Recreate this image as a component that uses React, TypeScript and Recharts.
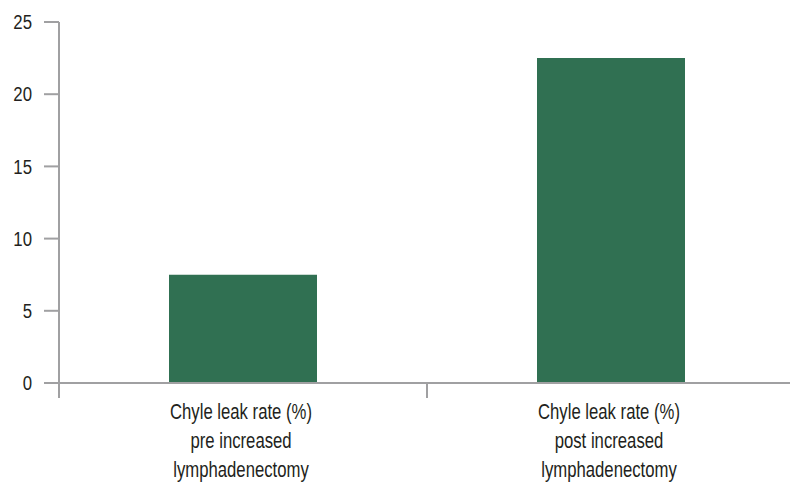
import { BarChart, Bar, XAxis, YAxis } from 'recharts';

const categories = [
  ['Chyle leak rate (%)', 'pre increased', 'lymphadenectomy'],
  ['Chyle leak rate (%)', 'post increased', 'lymphadenectomy'],
];
const leakRates = [7.5, 22.5];
const yTicks = [0, 5, 10, 15, 20, 25];

const data = categories.map((lines, i) => ({ name: lines.join('\n'), value: leakRates[i] }));

const font = '"Liberation Sans", Arial, sans-serif';
const axisColor = '#a0a0a2';
const textColor = '#231f20';

// narrow font look: Liberation Sans squeezed horizontally
const CategoryTick = ({ x, y, payload }: any) => {
  const lines = String(payload.value).split('\n');
  const half = payload.offset || 184;
  return (
    <g>
      <line x1={x - half} y1={y} x2={x - half} y2={y + 15} stroke={axisColor} strokeWidth={2} />
      <line x1={x + half} y1={y} x2={x + half} y2={y + 15} stroke={axisColor} strokeWidth={2} />
      <text
        transform={`translate(${x - 2},${y}) scale(0.76,1)`}
        textAnchor="middle"
        fontFamily={font}
        fontSize={22}
        fill={textColor}
      >
        {lines.map((line, i) => (
          <tspan key={i} x={0} y={36 + i * 29}>
            {line}
          </tspan>
        ))}
      </text>
    </g>
  );
};

const ValueTick = ({ x, y, payload }: any) => (
  <text
    transform={`translate(${x},${y}) scale(0.8,1)`}
    textAnchor="end"
    dominantBaseline="central"
    fontFamily={font}
    fontSize={21}
    fill={textColor}
  >
    {payload.value}
  </text>
);

const App = () => {
  return (
    <BarChart
      width={790}
      height={475}
      data={data}
      margin={{ top: 14, right: 3, bottom: 0, left: 0 }}
      barSize={148}
    >
      <XAxis
        dataKey="name"
        height={100}
        axisLine={{ stroke: axisColor, strokeWidth: 2 }}
        tickLine={false}
        tickSize={0}
        tickMargin={0}
        tick={<CategoryTick />}
        interval={0}
      />
      <YAxis
        domain={[0, 25]}
        ticks={yTicks}
        width={51}
        tickSize={15}
        tickMargin={12}
        axisLine={{ stroke: axisColor, strokeWidth: 2 }}
        tickLine={{ stroke: axisColor, strokeWidth: 2 }}
        tick={<ValueTick />}
      />
      <Bar dataKey="value" fill="#307052" isAnimationActive={false} />
    </BarChart>
  );
};

export default App;
